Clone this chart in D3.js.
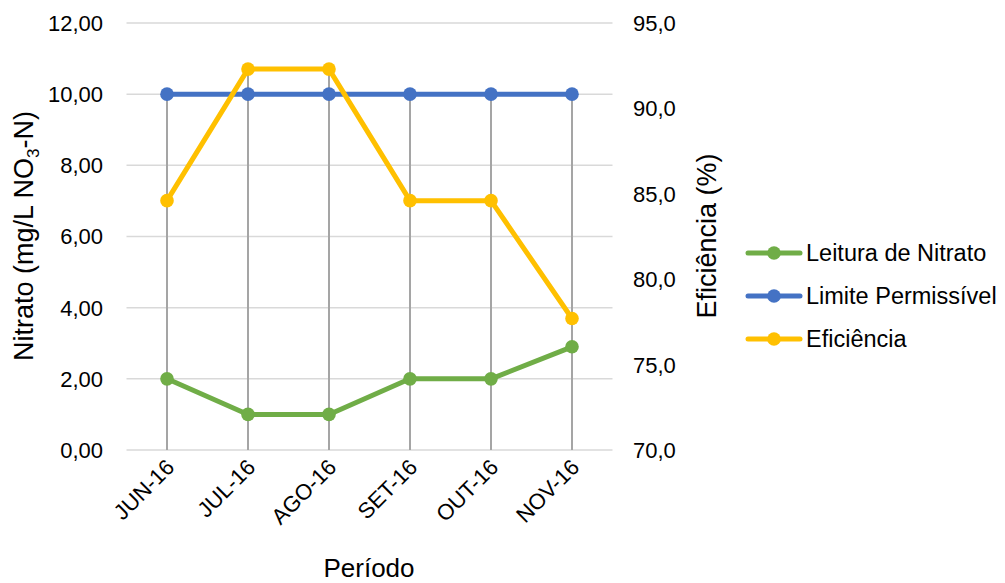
<!DOCTYPE html>
<html>
<head>
<meta charset="utf-8">
<script src="https://cdn.jsdelivr.net/npm/d3@7"></script>
<style>
  body { margin: 0; background: #fff; }
  svg { display: block; font-family: "Liberation Sans", Arial, sans-serif; }
</style>
</head>
<body>
<svg id="chart" width="1005" height="583"></svg>
<script>
// Monthly nitrate readings, permitted limit and removal efficiency
const periods = ["JUN-16", "JUL-16", "AGO-16", "SET-16", "OUT-16", "NOV-16"];
const leituraNitrato = [2.0, 1.0, 1.0, 2.0, 2.0, 2.9];
const limitePermissivel = [10.0, 10.0, 10.0, 10.0, 10.0, 10.0];
const eficiencia = [84.6, 92.3, 92.3, 84.6, 84.6, 77.7];
const leftTicks = [0, 2, 4, 6, 8, 10, 12];
const rightTicks = [70, 75, 80, 85, 90, 95];

const svg = d3.select("#chart");
const plot = { left: 126.5, right: 612.5, top: 23, bottom: 450 };

const x = d3.scaleBand().domain(periods).range([plot.left, plot.right]);
const cx = d => x(d) + x.bandwidth() / 2;
const yL = d3.scaleLinear().domain([0, 12]).range([plot.bottom, plot.top]);
const yR = d3.scaleLinear().domain([70, 95]).range([plot.bottom, plot.top]);

const fmtL = v => d3.format(".2f")(v).replace(".", ",");
const fmtR = v => d3.format(".1f")(v).replace(".", ",");

// horizontal gridlines
svg.append("g").selectAll("line").data(leftTicks).join("line")
  .attr("x1", plot.left).attr("x2", plot.right)
  .attr("y1", d => yL(d)).attr("y2", d => yL(d))
  .attr("stroke", "#d9d9d9").attr("stroke-width", 1.5);

// left axis labels
svg.append("g").selectAll("text").data(leftTicks).join("text")
  .attr("x", 103).attr("y", d => yL(d)).attr("dy", "0.36em")
  .attr("text-anchor", "end").attr("font-size", 22).attr("fill", "#000")
  .text(fmtL);

// right axis labels
svg.append("g").selectAll("text").data(rightTicks).join("text")
  .attr("x", 633).attr("y", d => yR(d)).attr("dy", "0.36em")
  .attr("text-anchor", "start").attr("font-size", 22).attr("fill", "#000")
  .text(fmtR);

// drop lines from the highest point of each period down to the axis
svg.append("g").selectAll("line").data(periods).join("line")
  .attr("x1", d => cx(d)).attr("x2", d => cx(d))
  .attr("y1", (d, i) => Math.min(yL(leituraNitrato[i]), yL(limitePermissivel[i]), yR(eficiencia[i])))
  .attr("y2", plot.bottom)
  .attr("stroke", "#a5a5a5").attr("stroke-width", 2);

// category labels, rotated
svg.append("g").selectAll("text").data(periods).join("text")
  .attr("transform", d => `translate(${cx(d) + 3},${plot.bottom + 13}) rotate(-45)`)
  .attr("text-anchor", "end").attr("dy", "0.36em")
  .attr("font-size", 22).attr("fill", "#000")
  .text(d => d);

// series
const series = [
  { name: "Leitura de Nitrato", values: leituraNitrato, y: yL, color: "#70ad47" },
  { name: "Limite Permissível", values: limitePermissivel, y: yL, color: "#4472c4" },
  { name: "Eficiência", values: eficiencia, y: yR, color: "#ffc000" }
];

series.forEach(s => {
  const line = d3.line().x((d, i) => cx(periods[i])).y(d => s.y(d));
  const g = svg.append("g");
  g.append("path").datum(s.values).attr("d", line)
    .attr("fill", "none").attr("stroke", s.color).attr("stroke-width", 5)
    .attr("stroke-linejoin", "round").attr("stroke-linecap", "round");
  g.selectAll("circle").data(s.values).join("circle")
    .attr("cx", (d, i) => cx(periods[i])).attr("cy", d => s.y(d))
    .attr("r", 6.8).attr("fill", s.color);
});

// axis titles
svg.append("text")
  .attr("transform", "translate(33,236) rotate(-90)")
  .attr("text-anchor", "middle").attr("font-size", 27).attr("fill", "#000")
  .call(t => {
    t.append("tspan").text("Nitrato (mg/L NO");
    t.append("tspan").attr("font-size", 17).attr("dy", 6).text("3");
    t.append("tspan").attr("dy", -6).text("-N)");
  });

svg.append("text")
  .attr("transform", "translate(716,236) rotate(-90)")
  .attr("text-anchor", "middle").attr("font-size", 27).attr("fill", "#000")
  .text("Eficiência (%)");

svg.append("text")
  .attr("x", 369).attr("y", 577)
  .attr("text-anchor", "middle").attr("font-size", 26).attr("fill", "#000")
  .text("Período");

// legend
const legend = svg.append("g");
series.forEach((s, i) => {
  const ly = 253 + i * 43;
  legend.append("line").attr("x1", 748).attr("x2", 800).attr("y1", ly).attr("y2", ly)
    .attr("stroke", s.color).attr("stroke-width", 5).attr("stroke-linecap", "round");
  legend.append("circle").attr("cx", 774).attr("cy", ly).attr("r", 6.8).attr("fill", s.color);
  legend.append("text").attr("x", 806).attr("y", ly).attr("dy", "0.36em")
    .attr("font-size", 23.5).attr("fill", "#000").text(s.name);
});
</script>
</body>
</html>
